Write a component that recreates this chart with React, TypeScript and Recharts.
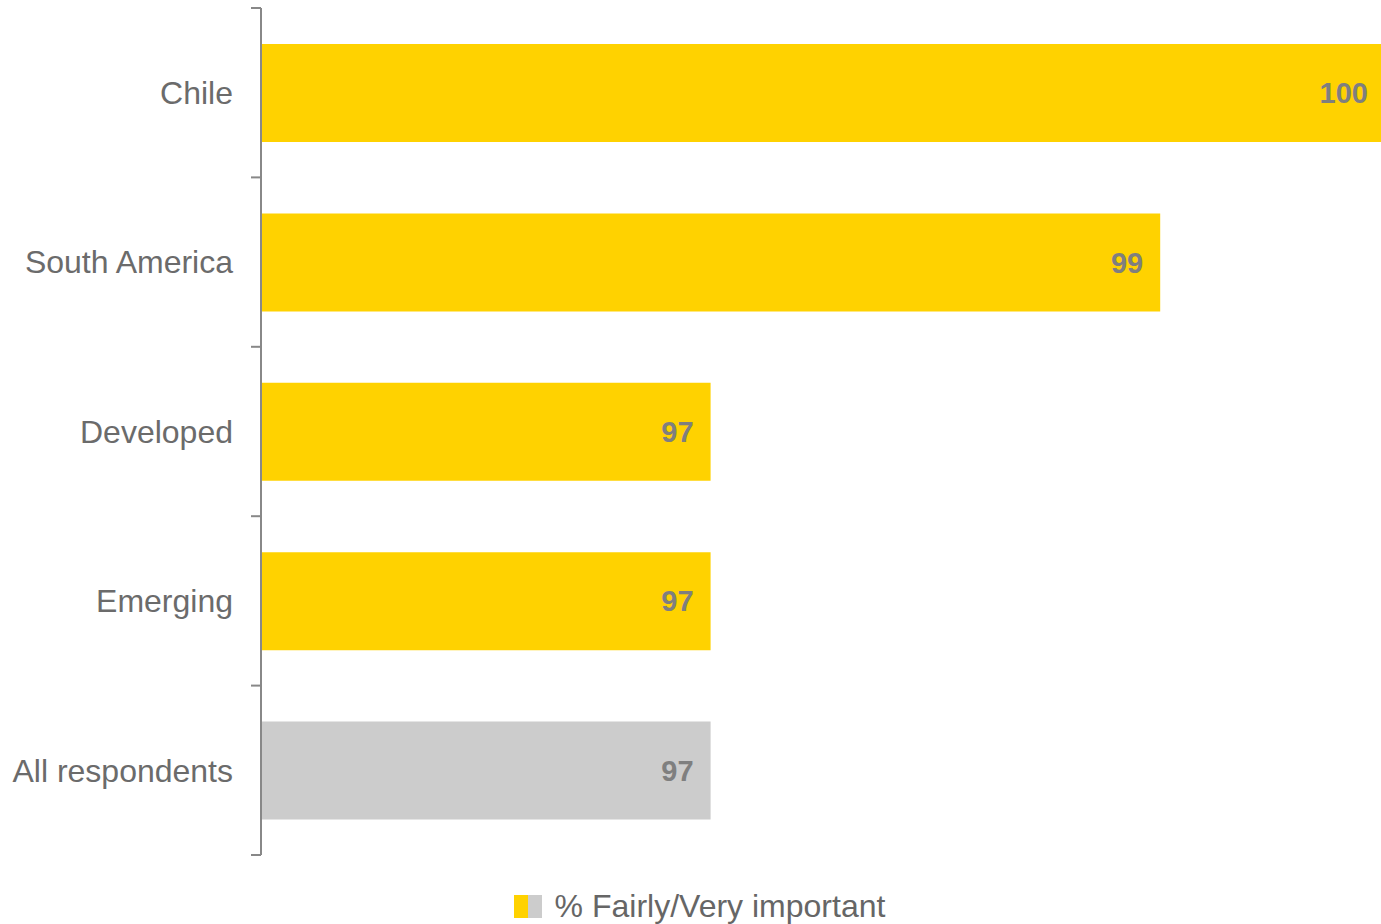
import { Bar, BarChart, Cell, LabelList, Legend, XAxis, YAxis } from "recharts";

const categories = ["Chile", "South America", "Developed", "Emerging", "All respondents"];
const importantPct = [100, 99, 97, 97, 97];
const highlight = [true, true, true, true, false];

const data = categories.map((name, i) => ({
  name,
  value: importantPct[i],
  highlight: highlight[i],
}));

const YELLOW = "#FFD200";
const GREY = "#CCCCCC";
const AXIS = "#888888";
const FONT = "'Liberation Sans', Arial, sans-serif";

const CHART_W = 1381;
const CHART_H = 924;
const LEGEND_H = 36;
// legend height is added to the bottom offset by recharts;
// the 100 bar runs a little past the right edge in the original
const margin = { top: 8, right: -4, bottom: 69 - LEGEND_H, left: 0 };
const band = (CHART_H - margin.top - margin.bottom - LEGEND_H) / categories.length;

// label at band centre, tick marks on the band boundaries
function CategoryTick(props: any) {
  const { x, y, payload, index } = props;
  const top = y - band / 2;
  const bottom = y + band / 2;
  return (
    <g>
      <line x1={x + 18} x2={x + 28} y1={top} y2={top} stroke={AXIS} strokeWidth={2} />
      {index === categories.length - 1 && (
        <line x1={x + 18} x2={x + 28} y1={bottom} y2={bottom} stroke={AXIS} strokeWidth={2} />
      )}
      <text
        x={x}
        y={y}
        dy="0.35em"
        textAnchor="end"
        fill="#6b6b6b"
        fontSize={32}
        fontFamily={FONT}
      >
        {payload.value}
      </text>
    </g>
  );
}

function LegendContent() {
  return (
    <div
      style={{
        display: "flex",
        alignItems: "center",
        justifyContent: "center",
        height: LEGEND_H,
        fontFamily: FONT,
        fontSize: 32,
        color: "#666666",
        paddingLeft: 18,
        boxSizing: "border-box",
      }}
    >
      <span style={{ display: "inline-block", width: 14, height: 23, background: YELLOW }} />
      <span style={{ display: "inline-block", width: 14, height: 23, background: GREY }} />
      <span style={{ marginLeft: 13 }}>% Fairly/Very important</span>
    </div>
  );
}

export default function App() {
  return (
    <div style={{ position: "fixed", left: 0, top: 0, width: CHART_W, overflow: "hidden", background: "#fff" }}>
      <BarChart width={CHART_W} height={CHART_H} data={data} layout="vertical" margin={margin}>
        <XAxis type="number" domain={[95, 100]} hide allowDataOverflow />
        <YAxis
          type="category"
          dataKey="name"
          width={261}
          axisLine={{ stroke: AXIS, strokeWidth: 2 }}
          tickLine={false}
          tickSize={10}
          tickMargin={18}
          tick={<CategoryTick />}
          interval={0}
        />
        <Legend
          verticalAlign="bottom"
          content={<LegendContent />}
          wrapperStyle={{ bottom: 0, left: 0, width: CHART_W, height: LEGEND_H }}
        />
        <Bar dataKey="value" barSize={98} isAnimationActive={false}>
          {data.map((d) => (
            <Cell key={d.name} fill={d.highlight ? YELLOW : GREY} />
          ))}
          <LabelList
            dataKey="value"
            position="insideRight"
            offset={17}
            fill="#7f7f7f"
            fontSize={29}
            fontWeight="bold"
            fontFamily={FONT}
          />
        </Bar>
      </BarChart>
    </div>
  );
}
